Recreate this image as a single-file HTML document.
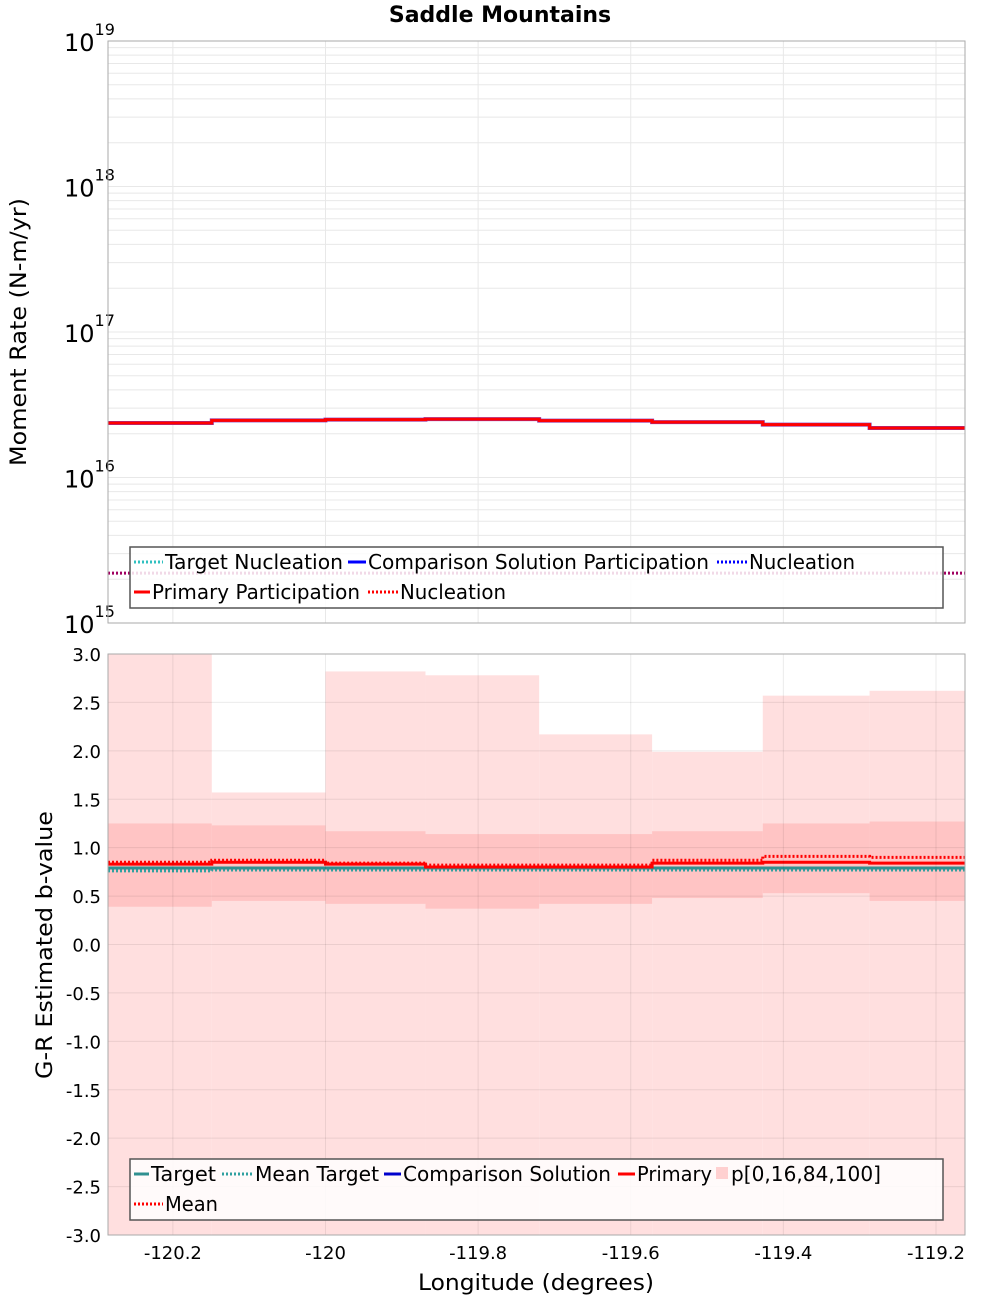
<!DOCTYPE html>
<html><head><meta charset="utf-8"><style>
body{margin:0;background:#fff;font-family:"Liberation Sans","DejaVu Sans",sans-serif}
svg text{font-family:"DejaVu Sans","Liberation Sans",sans-serif}
</style></head><body>
<svg id="c" width="1000" height="1300" viewBox="0 0 1000 1300"></svg>
<script>
const edges=[-120.285,-120.149,-120.0,-119.869,-119.72,-119.572,-119.427,-119.287,-119.162];
const momPrimary=[2.37e16,2.47e16,2.50e16,2.52e16,2.46e16,2.40e16,2.31e16,2.19e16];
const momNucl=[2.2e15,2.2e15,2.2e15,2.2e15,2.2e15,2.2e15,2.2e15,2.2e15];
const bP0=[-3,-3,-3,-3,-3,-3,-3,-3];
const bP100=[3.05,1.57,2.82,2.78,2.17,1.99,2.57,2.62];
const bP16=[0.39,0.45,0.42,0.37,0.42,0.48,0.53,0.45];
const bP84=[1.25,1.23,1.17,1.14,1.14,1.17,1.25,1.27];
const bPrimary=[0.83,0.85,0.83,0.80,0.80,0.84,0.85,0.84];
const bMean=[0.85,0.87,0.84,0.82,0.82,0.87,0.91,0.90];
const bTarget=[0.79,0.79,0.79,0.79,0.79,0.79,0.79,0.79];
const bMeanTarget=[0.76,0.77,0.77,0.77,0.77,0.77,0.77,0.77];
const xTicks=[-120.2,-120,-119.8,-119.6,-119.4,-119.2];
const bTicks=[3,2.5,2,1.5,1,0.5,0,-0.5,-1,-1.5,-2,-2.5,-3];

const svg=document.getElementById('c');const NS='http://www.w3.org/2000/svg';
function mk(t,a,p){const e=document.createElementNS(NS,t);for(const k in a)e.setAttribute(k,a[k]);(p||svg).appendChild(e);return e;}
const L=108,R=965;
const X=v=>L+(v-edges[0])/(edges[8]-edges[0])*(R-L);
const T1=41,B1=623,T2=654,B2=1235;
const Ym=v=>T1+(19-Math.log10(v))/4*(B1-T1);
const Yb=v=>T2+(3-v)/6*(B2-T2);
const t=mk('text',{x:500,y:22,'text-anchor':'middle','font-size':22,'font-weight':'bold'});t.textContent='Saddle Mountains';

const g1=mk('g',{});
mk('rect',{x:L,y:T1,width:R-L,height:B1-T1,fill:'#fff'},g1);
for(let d=15;d<19;d++)for(let m=1;m<10;m++){const y=Ym(m*Math.pow(10,d));mk('line',{x1:L,x2:R,y1:y,y2:y,stroke:'#e8e8e8','stroke-width':1},g1);}
xTicks.forEach(v=>mk('line',{x1:X(v),x2:X(v),y1:T1,y2:B1,stroke:'#e8e8e8'},g1));
for(let d=15;d<=19;d++){const y=Ym(Math.pow(10,d));const tx=mk('text',{x:64,y:y+10,'font-size':24},g1);tx.textContent='10';const s=mk('tspan',{dy:-16,'font-size':16},tx);s.textContent=String(d);
}
function step(vals,yf,attrs,g,name){let d='';vals.forEach((v,i)=>{d+=(i?'L':'M')+X(edges[i])+' '+yf(v)+'L'+X(edges[i+1])+' '+yf(v);});const p=mk('path',Object.assign({d:d,fill:'none'},attrs),g);
return p;}
step(momNucl,Ym,{stroke:'#a00060','stroke-width':3,'stroke-dasharray':'2,2'},g1,'nucleation-line');
step(momPrimary,Ym,{stroke:'#8040c0','stroke-width':4},g1,'comparison-participation-line');
step(momPrimary,Ym,{stroke:'#ff0000','stroke-width':3},g1,'primary-participation-line');
mk('rect',{x:L,y:T1,width:R-L,height:B1-T1,fill:'none',stroke:'#aaa'},g1);
const yt1=mk('text',{transform:'translate(26,332) rotate(-90)','text-anchor':'middle','font-size':22,textLength:268,lengthAdjust:'spacingAndGlyphs'},g1);yt1.textContent='Moment Rate (N-m/yr)';

function legend(g,x,y,w,h,rows){const lg=mk('g',{},g);
mk('rect',{x:x,y:y,width:w,height:h,fill:'rgba(255,255,255,0.85)',stroke:'#555','stroke-width':1.5},lg);
rows.forEach(r=>{const it=mk('g',{},lg);
if(r.box)mk('rect',{x:r.x,y:r.y-7,width:12,height:12,fill:r.c},it);else mk('line',{x1:r.x,x2:r.tx-2,y1:r.y,y2:r.y,stroke:r.c,'stroke-width':3,'stroke-dasharray':r.dash||'none'},it);
const tx=mk('text',{x:r.tx,y:r.y+7,'font-size':20,textLength:r.w,lengthAdjust:'spacingAndGlyphs'},it);tx.textContent=r.t;});}
legend(g1,130,547,813,61,[
{x:134,tx:165,w:178,y:562,c:'#30c0c0',dash:'2,2',t:'Target Nucleation'},{x:348,tx:368,w:341,y:562,c:'#0000ff',t:'Comparison Solution Participation'},{x:717,tx:749,w:106,y:562,c:'#0000ff',dash:'2,2',t:'Nucleation'},
{x:134,tx:152,w:208,y:592,c:'#ff0000',t:'Primary Participation'},{x:368,tx:400,w:106,y:592,c:'#ff0000',dash:'2,2',t:'Nucleation'}]);
const g2=mk('g',{});
const clip=mk('clipPath',{id:'cp'},g2);mk('rect',{x:L,y:T2,width:R-L,height:B2-T2},clip);
const gc=mk('g',{'clip-path':'url(#cp)'},g2);
bP100.forEach((v,i)=>{const r=mk('rect',{x:X(edges[i]),y:Yb(v),width:X(edges[i+1])-X(edges[i]),height:Yb(bP0[i])-Yb(v),fill:'#ffdfdf'},gc);});
bP84.forEach((v,i)=>{const r=mk('rect',{x:X(edges[i]),y:Yb(v),width:X(edges[i+1])-X(edges[i]),height:Yb(bP16[i])-Yb(v),fill:'#ffc4c4'},gc);});
bTicks.forEach(v=>{mk('line',{x1:L,x2:R,y1:Yb(v),y2:Yb(v),stroke:'rgba(0,0,0,0.08)'},g2);const tx=mk('text',{x:101,y:Yb(v)+7,'text-anchor':'end','font-size':18},g2);tx.textContent=v.toFixed(1);});
xTicks.forEach(v=>{mk('line',{x1:X(v),x2:X(v),y1:T2,y2:B2,stroke:'rgba(0,0,0,0.08)'},g2);const tx=mk('text',{x:X(v),y:1259,'text-anchor':'middle','font-size':18},g2);tx.textContent=String(v);});
step(bMeanTarget,Yb,{stroke:'#30a0a0','stroke-width':3,'stroke-dasharray':'2,2'},gc,'mean-target-line');
step(bTarget,Yb,{stroke:'#309090','stroke-width':3},gc,'target-line');
step(bPrimary,Yb,{stroke:'#ff0000','stroke-width':3},gc,'primary-line');
step(bMean,Yb,{stroke:'#ff0000','stroke-width':3,'stroke-dasharray':'2,2'},gc,'mean-line');
mk('rect',{x:L,y:T2,width:R-L,height:B2-T2,fill:'none',stroke:'#aaa'},g2);
const yt2=mk('text',{transform:'translate(52,945) rotate(-90)','text-anchor':'middle','font-size':22,textLength:268,lengthAdjust:'spacingAndGlyphs'},g2);yt2.textContent='G-R Estimated b-value';

const xt=mk('text',{x:536,y:1290,'text-anchor':'middle','font-size':22,textLength:236,lengthAdjust:'spacingAndGlyphs'});xt.textContent='Longitude (degrees)';

legend(g2,130,1159,813,61,[
{x:134,tx:151,w:65,y:1174,c:'#309090',t:'Target'},{x:222,tx:255,w:124,y:1174,c:'#30a0a0',dash:'2,2',t:'Mean Target'},{x:384,tx:403,w:208,y:1174,c:'#0000cc',t:'Comparison Solution'},{x:618,tx:637,w:75,y:1174,c:'#ff0000',t:'Primary'},{x:716,tx:731,w:150,y:1174,c:'#ffd0d0',box:true,t:'p[0,16,84,100]'},
{x:134,tx:165,w:53,y:1204,c:'#ff0000',dash:'2,2',t:'Mean'}]);
</script>
</body></html>
